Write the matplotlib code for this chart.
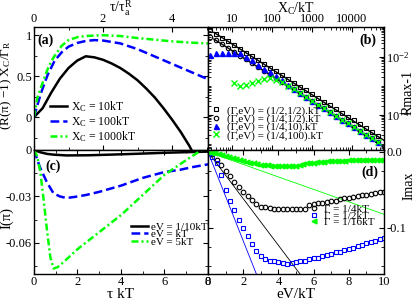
import numpy as np
import matplotlib
matplotlib.use('Agg')
import matplotlib.pyplot as plt
from matplotlib import ticker

plt.rcParams['font.family'] = ['Liberation Serif', 'DejaVu Serif']
plt.rcParams['mathtext.fontset'] = 'custom'
plt.rcParams['mathtext.rm'] = 'Liberation Serif'
plt.rcParams['mathtext.it'] = 'Liberation Serif:italic'
plt.rcParams['mathtext.bf'] = 'Liberation Serif:bold'
plt.rcParams['xtick.direction'] = 'in'
plt.rcParams['ytick.direction'] = 'in'
plt.rcParams['xtick.major.size'] = 3.5
plt.rcParams['ytick.major.size'] = 3.5
plt.rcParams['xtick.minor.size'] = 2
plt.rcParams['ytick.minor.size'] = 2
plt.rcParams['axes.linewidth'] = 1.0

# ---- panel (a): (R(pi)-1) Xc/Gamma_R vs tau/tau_a^R
t_black = [0, 0.25, 0.5, 0.75, 1.0, 1.25, 1.5, 1.75, 2.0, 2.25, 2.5, 2.75, 3.0, 3.25, 3.5, 3.75, 4.0, 4.25, 4.5, 4.6]
r_black = [0, 0.11, 0.30, 0.47, 0.60, 0.69, 0.743, 0.73, 0.70, 0.655, 0.60, 0.53, 0.45, 0.35, 0.24, 0.11, -0.03, -0.18, -0.35, -0.43]
t_blue = [0, 0.1, 0.2, 0.3, 0.4, 0.6, 0.8, 1.0, 1.25, 1.5, 1.75, 2.0, 2.5, 3.0, 3.5, 4.0, 4.5, 5.0, 5.1]
r_blue = [0, 0.15, 0.29, 0.41, 0.52, 0.69, 0.79, 0.86, 0.905, 0.93, 0.94, 0.935, 0.90, 0.83, 0.74, 0.65, 0.56, 0.47, 0.45]
t_green = [0, 0.05, 0.1, 0.2, 0.3, 0.4, 0.5, 0.6, 0.8, 1.0, 1.25, 1.5, 2.0, 2.5, 3.0, 3.5, 4.0, 4.5, 5.0, 5.1]
r_green = [0, 0.12, 0.24, 0.36, 0.48, 0.59, 0.68, 0.75, 0.87, 0.94, 0.975, 0.99, 1.0, 0.99, 0.965, 0.945, 0.925, 0.91, 0.9, 0.9]
labels_a = [r'X$_\mathrm{C}$ = 10kT', r'X$_\mathrm{C}$ = 100kT', r'X$_\mathrm{C}$ = 1000kT']

# ---- panel (b): Rmax-1 vs Xc/kT (log-log)
xc = [2.82, 3.98, 5.62, 7.94, 11.2, 15.8, 22.4, 31.6, 44.7, 63.1, 89.1, 126, 178, 251, 355,
      501, 708, 1000, 1413, 1995, 2818, 3981, 5623, 7943, 11220, 15849, 22387, 31623, 44668]
lr_sq = [-1.07, -1.20, -1.33, -1.46, -1.59, -1.72, -1.85, -1.98, -2.11, -2.24, -2.37, -2.50, -2.63, -2.76, -2.89,
         -3.02, -3.15, -3.28, -3.41, -3.54, -3.67, -3.80, -3.93, -4.06, -4.19, -4.32, -4.45, -4.58, -4.71]
lr_circ = [-1.30, -1.43, -1.56, -1.69, -1.82, -1.95, -2.08, -2.21, -2.34, -2.47, -2.60, -2.73, -2.86, -2.99, -3.12,
           -3.25, -3.38, -3.51, -3.64, -3.77, -3.90, -4.03, -4.16, -4.29, -4.42, -4.55, -4.68, -4.81, -4.94]
lr_tri = [-1.93, -1.88, -1.86, -1.85, -1.85, -1.88, -1.99, -2.12, -2.27, -2.40, -2.53, -2.66, -2.80, -2.95, -3.10,
          -3.24, -3.38, -3.51, -3.64, -3.77, -3.90, -4.03, -4.16, -4.29, -4.42, -4.55, -4.68, -4.81, -4.94]
xc_x = xc[4:]
lr_x = [-2.90, -2.99, -2.97, -2.90, -2.83, -2.77, -2.74, -2.80, -2.87, -2.99, -3.12,
        -3.25, -3.38, -3.51, -3.64, -3.77, -3.90, -4.03, -4.16, -4.29, -4.42, -4.55, -4.68, -4.81, -4.94]
xc_fit = [3.5, 63000]
lr_fit_sq = [-1.152, -4.876]
lr_fit_circ = [-1.382, -5.115]
labels_b = ['(Γ,eV) = (1/2,1/2).kT', '(Γ,eV) = (1/4,1/2).kT', '(Γ,eV) = (1/4,10).kT', '(Γ,eV) = (1/4,100).kT']

# ---- panel (c): I(pi) vs tau kT
tau_black = [0, 0.3, 0.6, 0.9, 1.5, 2.5, 3.5, 4.6, 6, 7, 8.1]
i_black = [0, -0.0015, -0.0025, -0.003, -0.0035, -0.0034, -0.003, -0.0025, -0.0018, -0.0014, -0.001]
tau_blue = [0, 0.27, 0.6, 0.9, 1.2, 1.5, 2.0, 2.4, 3, 4, 5, 6, 6.7, 7.3, 8.1]
i_blue = [0, -0.011, -0.021, -0.028, -0.030, -0.031, -0.030, -0.029, -0.027, -0.023, -0.018, -0.0142, -0.0128, -0.011, -0.009]
tau_green = [0, 0.15, 0.3, 0.45, 0.6, 0.75, 0.9, 1.1, 1.5, 2, 3, 4, 5, 6, 6.8, 7.7, 8.1]
i_green = [0, -0.004, -0.015, -0.033, -0.052, -0.069, -0.0765, -0.0755, -0.0705, -0.064, -0.053, -0.042, -0.029,
           -0.016, -0.0084, 0.0, 0.001]
labels_c = ['eV = 1/10kT', 'eV = kT', 'eV = 5kT']

# ---- panel (d): Imax vs eV/kT
ev = [0, 0.25, 0.5, 0.75, 1.0, 1.25, 1.5, 1.75, 2.0, 2.25, 2.5, 2.75, 3.0, 3.25, 3.5, 3.75, 4.0, 4.25, 4.5, 4.75,
      5.0, 5.25, 5.5, 5.75, 6.0, 6.25, 6.5, 6.75, 7.0, 7.25, 7.5, 7.75, 8.0, 8.25, 8.5, 8.75, 9.0, 9.25, 9.5, 9.75, 10.0]
imax_14 = [0, -0.003, -0.010, -0.017, -0.025, -0.032, -0.039, -0.046, -0.052, -0.058, -0.063, -0.068, -0.072,
           -0.073, -0.074, -0.0745, -0.075, -0.075, -0.075, -0.075, -0.075, -0.0755, -0.0755, -0.070, -0.068,
           -0.0675, -0.067, -0.066, -0.065, -0.064, -0.0625, -0.061, -0.060, -0.059, -0.058, -0.057, -0.056,
           -0.055, -0.054, -0.053, -0.052]
imax_12 = [0, -0.006, -0.015, -0.030, -0.050, -0.064, -0.076, -0.089, -0.100, -0.110, -0.121, -0.130, -0.137,
           -0.141, -0.143, -0.144, -0.145, -0.146, -0.147, -0.146, -0.145, -0.144, -0.143, -0.141, -0.140,
           -0.139, -0.137, -0.136, -0.134, -0.132, -0.131, -0.129, -0.127, -0.126, -0.124, -0.122, -0.120,
           -0.118, -0.117, -0.115, -0.113]
ev_g = [0, 0.2, 0.4, 0.6, 0.8, 1.0, 1.2, 1.4, 1.6, 1.8, 2.0, 2.2, 2.4, 2.6, 2.8, 3.0, 3.2, 3.4, 3.6, 3.8, 4.0,
        4.2, 4.4, 4.6, 4.8, 5.0, 5.2, 5.4, 5.6, 5.8, 6.0, 6.2, 6.4, 6.6, 6.8, 7.0, 7.2, 7.4, 7.6, 7.8, 8.0,
        8.2, 8.4, 8.6, 8.8, 9.0, 9.2, 9.4, 9.6, 9.8, 10.0]
imax_116 = [0, -0.001, -0.002, -0.003, -0.004, -0.0055, -0.007, -0.008, -0.0095, -0.011, -0.012, -0.013, -0.014,
            -0.015, -0.0158, -0.0165, -0.017, -0.0175, -0.018, -0.0185, -0.019, -0.019, -0.019, -0.019, -0.0185,
            -0.018, -0.0175, -0.016, -0.015, -0.0145, -0.014, -0.0135, -0.013, -0.0127, -0.0125, -0.0122, -0.012,
            -0.0118, -0.0116, -0.0114, -0.0112, -0.011, -0.011, -0.0108, -0.0107, -0.0106, -0.0105, -0.0104,
            -0.0103, -0.0102, -0.0102]
ev_fit = [0, 10]
fit_14 = [0, -0.307]
fit_12 = [0, -0.584]
fit_116 = [0, -0.082]
labels_d = ['Γ = 1/4kT', 'Γ = 1/2kT', 'Γ = 1/16kT']

GREEN = '#00ff00'
BLUE = '#0000ff'

fig = plt.figure(figsize=(4.15, 3.0), dpi=100)
L, M, R = 0.0819, 0.5012, 0.9253
B, H, T = 0.0867, 0.5, 0.91
ax_a = fig.add_axes([L, H, M - L, T - H])
ax_b = fig.add_axes([M, H, R - M, T - H])
ax_c = fig.add_axes([L, B, M - L, H - B])
ax_d = fig.add_axes([M, B, R - M, H - B])

for ax in (ax_a, ax_b, ax_c, ax_d):
    ax.tick_params(top=True, bottom=True, left=True, right=True, which='both', labelsize=9, pad=1.5)

# (a)
ax_a.plot(t_black, r_black, color='black', lw=1.8, label=labels_a[0])
ax_a.plot(t_blue, r_blue, color=BLUE, lw=1.8, dashes=(3.5, 1.6), label=labels_a[1])
ax_a.plot(t_green, r_green, color=GREEN, lw=1.8, dashes=(2.8, 1.2, 0.8, 1.2), label=labels_a[2])
ax_a.set_xlim(0, 5.04)
ax_a.set_ylim(-0.4, 1.1)
ax_a.xaxis.set_major_locator(ticker.MultipleLocator(2))
ax_a.xaxis.set_minor_locator(ticker.MultipleLocator(1))
ax_a.yaxis.set_major_locator(ticker.FixedLocator([0, 0.5, 1]))
ax_a.yaxis.set_major_formatter(ticker.FixedFormatter(['0', '0.5', '1']))
ax_a.yaxis.set_minor_locator(ticker.MultipleLocator(0.25))
ax_a.tick_params(labeltop=True, labelbottom=False)
ax_a.xaxis.set_label_position('top')
ax_a.set_xlabel(r'τ/τ$_\mathrm{a}^\mathrm{R}$', fontsize=10, labelpad=0)
ax_a.set_ylabel(r'(R(π) $-$1) X$_\mathrm{C}$/Γ$_\mathrm{R}$', fontsize=9.5)
ax_a.yaxis.set_label_coords(-0.112, 0.53)
ax_a.text(0.02, 0.86, '(a)', transform=ax_a.transAxes, fontsize=10, fontweight='bold')
ax_a.legend(loc='upper left', bbox_to_anchor=(0.09, 0.41), frameon=False, fontsize=8.5,
            handlelength=1.5, handletextpad=0.3, labelspacing=0.0, borderpad=0, borderaxespad=0)

# (b)
ax_b.set_xscale('log')
ax_b.set_yscale('log')
ax_b.plot(xc_fit, [10 ** v for v in lr_fit_sq], color='black', lw=1.0)
ax_b.plot(xc_fit, [10 ** v for v in lr_fit_circ], color='black', lw=1.0)
ax_b.plot(xc, [10 ** v for v in lr_sq], ls='none', marker='s', ms=3.2, mfc='none', mec='black', mew=0.8, label=labels_b[0])
ax_b.plot(xc, [10 ** v for v in lr_circ], ls='none', marker='o', ms=3.2, mfc='none', mec='black', mew=0.8, label=labels_b[1])
ax_b.plot(xc, [10 ** v for v in lr_tri], ls='none', marker='^', ms=3.6, color=BLUE, label=labels_b[2])
ax_b.plot(xc_x, [10 ** v for v in lr_x], ls='none', marker='x', ms=4.0, mew=1.0, color=GREEN, label=labels_b[3])
ax_b.set_xlim(2.5, 6.3e4)
ax_b.set_ylim(6.2e-6, 0.108)
ax_b.xaxis.set_major_locator(ticker.FixedLocator([10, 100, 1000, 10000]))
ax_b.xaxis.set_major_formatter(ticker.FixedFormatter(['10', '100', '1000', '10000']))
ax_b.xaxis.set_minor_locator(ticker.LogLocator(base=10, subs=np.arange(2, 10), numticks=20))
ax_b.xaxis.set_minor_formatter(ticker.NullFormatter())
ax_b.yaxis.set_major_locator(ticker.FixedLocator([1e-4, 1e-2]))
ax_b.yaxis.set_major_formatter(ticker.FixedFormatter([r'10$^{-4}$', r'10$^{-2}$']))
ax_b.yaxis.set_minor_locator(ticker.LogLocator(base=10, subs=np.arange(1, 10), numticks=20))
ax_b.yaxis.set_minor_formatter(ticker.NullFormatter())
ax_b.tick_params(labeltop=True, labelbottom=False, labelleft=False, labelright=True)
ax_b.xaxis.set_label_position('top')
ax_b.set_xlabel(r'X$_\mathrm{C}$/kT', fontsize=10, labelpad=0)
ax_b.yaxis.set_label_position('right')
ax_b.set_ylabel('Rmax-1', fontsize=10)
ax_b.yaxis.set_label_coords(1.10, 0.47)
ax_b.text(0.86, 0.86, '(b)', transform=ax_b.transAxes, fontsize=10, fontweight='bold')
ax_b.legend(loc='upper left', bbox_to_anchor=(0.0, 0.38), frameon=False, fontsize=8,
            handlelength=1.0, handletextpad=0.5, labelspacing=-0.15, borderpad=0.2, borderaxespad=0)

# (c)
ax_c.plot(tau_black, i_black, color='black', lw=1.8, label=labels_c[0])
ax_c.plot(tau_blue, i_blue, color=BLUE, lw=1.8, dashes=(3.5, 1.6), label=labels_c[1])
ax_c.plot(tau_green, i_green, color=GREEN, lw=1.8, dashes=(2.8, 1.2, 0.8, 1.2), label=labels_c[2])
ax_c.set_xlim(0, 8)
ax_c.set_ylim(-0.08, 0)
ax_c.xaxis.set_major_locator(ticker.MultipleLocator(2))
ax_c.xaxis.set_minor_locator(ticker.MultipleLocator(1))
ax_c.yaxis.set_major_locator(ticker.FixedLocator([0, -0.03, -0.06]))
ax_c.yaxis.set_major_formatter(ticker.FixedFormatter(['0', '-0.03', '-0.06']))
ax_c.yaxis.set_minor_locator(ticker.MultipleLocator(0.015))
ax_c.set_xlabel('τ kT', fontsize=11, labelpad=0)
ax_c.set_ylabel('I(π)', fontsize=10.5)
ax_c.yaxis.set_label_coords(-0.118, 0.45)
ax_c.text(0.065, 0.84, '(c)', transform=ax_c.transAxes, fontsize=10, fontweight='bold')
ax_c.legend(loc='upper left', bbox_to_anchor=(0.56, 0.42), frameon=False, fontsize=8,
            handlelength=1.5, handletextpad=0.3, labelspacing=-0.2, borderpad=0, borderaxespad=0)

# (d)
ax_d.plot(ev_fit, fit_14, color='black', lw=0.6)
ax_d.plot(ev_fit, fit_12, color=BLUE, lw=0.6)
ax_d.plot(ev_fit, fit_116, color=GREEN, lw=0.6)
ax_d.plot(ev, imax_14, ls='none', marker='o', ms=3.3, mfc='none', mec='black', mew=0.8, label=labels_d[0])
ax_d.plot(ev, imax_12, ls='none', marker='s', ms=3.1, mfc='none', mec=BLUE, mew=0.8, label=labels_d[1])
ax_d.plot(ev_g, imax_116, ls='none', marker='<', ms=3.5, color=GREEN, label=labels_d[2])
ax_d.set_xlim(0, 10)
ax_d.set_ylim(-0.1605, 0.0026)
ax_d.xaxis.set_major_locator(ticker.MultipleLocator(2))
ax_d.xaxis.set_minor_locator(ticker.MultipleLocator(1))
ax_d.yaxis.set_major_locator(ticker.FixedLocator([0, -0.1]))
ax_d.yaxis.set_major_formatter(ticker.FixedFormatter(['0.0', '-0.1']))
ax_d.yaxis.set_minor_locator(ticker.MultipleLocator(0.025))
ax_d.tick_params(labelleft=False, labelright=True)
ax_d.set_xlabel('eV/kT', fontsize=11, labelpad=0)
ax_d.yaxis.set_label_position('right')
ax_d.set_ylabel('Imax', fontsize=10)
ax_d.yaxis.set_label_coords(1.105, 0.71)
ax_d.text(0.87, 0.79, '(d)', transform=ax_d.transAxes, fontsize=10, fontweight='bold')
ax_d.legend(loc='upper left', bbox_to_anchor=(0.57, 0.56), frameon=False, fontsize=8,
            handlelength=1.0, handletextpad=0.4, labelspacing=-0.3, borderpad=0, borderaxespad=0)

fig.savefig('out.png', dpi=100)
